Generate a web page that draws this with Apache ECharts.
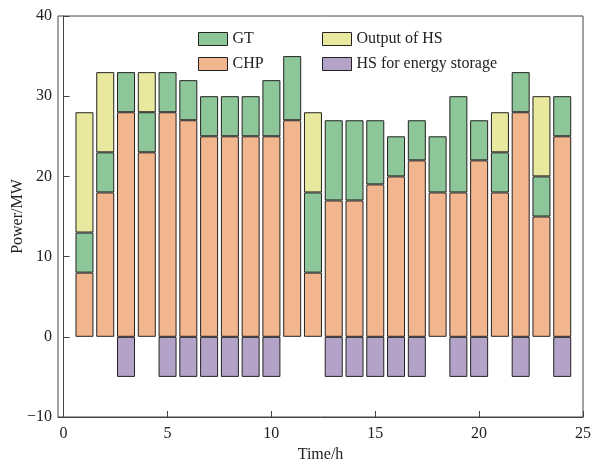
<!DOCTYPE html>
<html>
<head>
<meta charset="utf-8">
<script src="https://cdn.jsdelivr.net/npm/echarts@6/dist/echarts.min.js"></script>
<style>html,body{margin:0;padding:0;background:#fff}#c{width:591px;height:463px}</style>
</head>
<body>
<div id="c"></div>
<script>
const hours = ['0','1','2','3','4','5','6','7','8','9','10','11','12','13','14','15','16','17','18','19','20','21','22','23','24','25'];
const chp = [8,18,28,23,28,27,25,25,25,25,27,8,17,17,19,20,22,18,18,22,18,28,15,25];
const gt = [5,5,5,5,5,5,5,5,5,7,8,10,10,10,8,5,5,7,12,5,5,5,5,5];
const hsOutput = [15,10,0,5,0,0,0,0,0,0,0,10,0,0,0,0,0,0,0,0,5,0,10,0];
const hsStorage = [0,0,-5,0,-5,-5,-5,-5,-5,-5,0,0,-5,-5,-5,-5,-5,0,-5,-5,0,-5,0,-5];
const xTicks = [0,5,10,15,20,25];

const font = 'Liberation Serif';
// hours 1..24 map to categories '1'..'24'; '0' and '25' are empty ends
function toData(arr){ return [null].concat(arr.map(v => v === 0 ? null : v), [null]); }
function mk(name, arr, color){
  return {name, type:'bar', stack:'p', data:toData(arr), barWidth:18, xAxisIndex:1, yAxisIndex:1,
    itemStyle:{color, borderColor:'#222', borderWidth:1}};
}
const txt = {fontFamily:font, fontSize:16, color:'#222'};
const chart = echarts.init(document.getElementById('c'), null, {renderer:'canvas'});
chart.setOption({
  backgroundColor:'#fff',
  animation:false,
  grid:[
    {left:58, right:8, top:16, bottom:46, show:true, borderColor:'#444', borderWidth:1, outerBoundsMode:'none', containLabel:false},
    {left:63.7, right:8, top:16, bottom:46, show:false, outerBoundsMode:'none', containLabel:false}
  ],
  legend:[
    {data:['GT','CHP'], left:193, top:26, orient:'vertical', itemWidth:29, itemHeight:13, itemGap:9,
     textStyle:txt, icon:'rect', itemStyle:{borderColor:'#222', borderWidth:1}},
    {data:['Output of HS','HS for energy storage'], left:317, top:26, orient:'vertical', itemWidth:29, itemHeight:13, itemGap:9,
     textStyle:txt, icon:'rect', itemStyle:{borderColor:'#222', borderWidth:1}}
  ],
  xAxis:[
    {type:'value', gridIndex:0, min:-0.27, max:25, name:'Time/h', nameLocation:'middle', nameGap:30,
     nameTextStyle:txt, nameMoveOverlap:false,
     axisLine:{show:true, onZero:false, lineStyle:{color:'#444'}},
     axisTick:{show:true, inside:true, length:6, customValues:xTicks, lineStyle:{color:'#444'}},
     axisLabel:Object.assign({customValues:xTicks, margin:9}, txt),
     splitLine:{show:false}},
    {type:'category', gridIndex:1, data:hours, boundaryGap:false, show:false}
  ],
  yAxis:[
    {type:'value', gridIndex:0, min:-10, max:40, interval:10, name:'Power/MW', nameLocation:'middle', nameGap:32,
     nameTextStyle:txt, nameMoveOverlap:false,
     axisLine:{show:true, lineStyle:{color:'#444'}},
     axisTick:{show:true, inside:true, length:6, lineStyle:{color:'#444'}},
     axisLabel:Object.assign({margin:6, formatter: v => String(v).replace('-', '\u2212')}, txt),
     splitLine:{show:false}},
    {type:'value', gridIndex:1, min:-10, max:40, interval:10, show:false, splitLine:{show:false}}
  ],
  series:[
    mk('CHP', chp, '#f2b68e'),
    mk('GT', gt, '#8dc698'),
    mk('Output of HS', hsOutput, '#e8e89e'),
    mk('HS for energy storage', hsStorage, '#b3a3c8')
  ]
});
</script>
</body>
</html>
